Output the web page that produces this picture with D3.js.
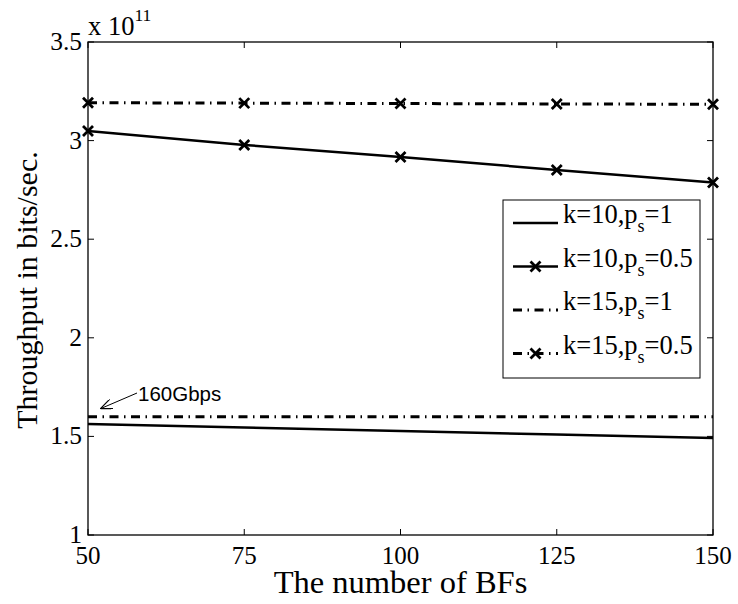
<!DOCTYPE html>
<html>
<head>
<meta charset="utf-8">
<script src="https://cdn.jsdelivr.net/npm/d3@7"></script>
<style>
  html, body { margin: 0; padding: 0; background: #fff; }
  svg { display: block; }
  text { font-family: "Liberation Serif", "Times New Roman", serif; fill: #000; }
</style>
</head>
<body>
<svg id="chart" width="738" height="604"></svg>
<script>
// Number of BFs on the x axis
const bfs = [50, 75, 100, 125, 150];

// Throughput (bits/sec.) for each configuration
const k10ps1  = [1.563e11, 1.545e11, 1.527e11, 1.510e11, 1.492e11];
const k10ps05 = [3.049e11, 2.978e11, 2.917e11, 2.851e11, 2.787e11];
const k15ps1  = [1.600e11, 1.600e11, 1.600e11, 1.600e11, 1.600e11];
const k15ps05 = [3.192e11, 3.190e11, 3.188e11, 3.186e11, 3.184e11];

// Axis ticks
const xTicks = [50, 75, 100, 125, 150];
const yTicks = [1e11, 1.5e11, 2e11, 2.5e11, 3e11, 3.5e11];
const yTickLabels = ["1", "1.5", "2", "2.5", "3", "3.5"];

// Legend entries
const seriesNames = [
  { k: "k=10,p", sub: "s", rest: "=1" },
  { k: "k=10,p", sub: "s", rest: "=0.5" },
  { k: "k=15,p", sub: "s", rest: "=1" },
  { k: "k=15,p", sub: "s", rest: "=0.5" }
];

// Reference line annotation
const refValue = 1.6e11;
const refLabel = "160Gbps";

const dashDot = "9,5.5,1.5,5.5";
const series = [
  { values: k10ps1,  dash: null,    marker: false },
  { values: k10ps05, dash: null,    marker: true  },
  { values: k15ps1,  dash: dashDot, marker: false },
  { values: k15ps05, dash: dashDot, marker: true  }
];

const svg = d3.select("#chart");
const L = 88, R = 713, T = 42, B = 535;

const x = d3.scaleLinear().domain([50, 150]).range([L, R]);
const y = d3.scaleLinear().domain([1e11, 3.5e11]).range([B, T]);

// Ticks pointing inward on all four sides
const tickLen = 6;
const axisG = svg.append("g");
xTicks.forEach(v => {
  axisG.append("line").attr("x1", x(v)).attr("x2", x(v)).attr("y1", B).attr("y2", B - tickLen)
    .attr("stroke", "#000").attr("stroke-width", 1);
  axisG.append("line").attr("x1", x(v)).attr("x2", x(v)).attr("y1", T).attr("y2", T + tickLen)
    .attr("stroke", "#000").attr("stroke-width", 1);
  axisG.append("text").attr("x", x(v)).attr("y", 564).attr("text-anchor", "middle")
    .attr("font-size", 25).text(v);
});
yTicks.forEach((v, i) => {
  axisG.append("line").attr("x1", L).attr("x2", L + tickLen).attr("y1", y(v)).attr("y2", y(v))
    .attr("stroke", "#000").attr("stroke-width", 1);
  axisG.append("line").attr("x1", R).attr("x2", R - tickLen).attr("y1", y(v)).attr("y2", y(v))
    .attr("stroke", "#000").attr("stroke-width", 1);
  axisG.append("text").attr("x", 82).attr("y", y(v) + 8).attr("text-anchor", "end")
    .attr("font-size", 25.5).text(yTickLabels[i]);
});

// Exponent label
const expT = svg.append("text").attr("x", 88).attr("y", 35).attr("font-size", 26.5);
expT.append("tspan").text("x 10");
expT.append("tspan").attr("dy", -14).attr("font-size", 17.5).text("11");

// Axis titles
svg.append("text").attr("x", 400.5).attr("y", 593).attr("text-anchor", "middle")
  .attr("font-size", 32.5).text("The number of BFs");
svg.append("text").attr("transform", "translate(37,290) rotate(-90)").attr("text-anchor", "middle")
  .attr("font-size", 30).text("Throughput in bits/sec.");

// Plot lines
const line = d3.line().x((d, i) => x(bfs[i])).y(d => y(d));
const plotG = svg.append("g");
function crossPath(cx, cy, s) {
  return `M${cx - s},${cy - s}L${cx + s},${cy + s}M${cx - s},${cy + s}L${cx + s},${cy - s}`;
}
series.forEach(s => {
  plotG.append("path").datum(s.values).attr("d", line)
    .attr("fill", "none").attr("stroke", "#000").attr("stroke-width", s.dash ? 3 : 2.5)
    .attr("stroke-dasharray", s.dash);
  if (s.marker) {
    s.values.forEach((v, i) => {
      plotG.append("path").attr("d", crossPath(x(bfs[i]), y(v), 5))
        .attr("stroke", "#000").attr("stroke-width", 2.8).attr("fill", "none");
    });
  }
});

// Frame
svg.append("rect").attr("x", L).attr("y", T).attr("width", R - L).attr("height", B - T)
  .attr("fill", "none").attr("stroke", "#000").attr("stroke-width", 1.3);

// Annotation arrow for the 160 Gbps level
svg.append("defs").append("marker").attr("id", "arrow").attr("viewBox", "0 0 12 10")
  .attr("refX", 12).attr("refY", 5).attr("markerWidth", 12).attr("markerHeight", 10)
  .attr("markerUnits", "userSpaceOnUse").attr("orient", "auto")
  .append("path").attr("d", "M0,0L12,5L0,10").attr("fill", "none").attr("stroke", "#000").attr("stroke-width", 1.2);
svg.append("line").attr("x1", 137).attr("y1", 393).attr("x2", x(52)).attr("y2", y(refValue) - 8)
  .attr("stroke", "#000").attr("stroke-width", 1).attr("marker-end", "url(#arrow)");
svg.append("text").attr("x", 138).attr("y", 401).attr("font-size", 20.5)
  .style("font-family", "'Liberation Sans', Arial, sans-serif").text(refLabel);

// Legend
const lg = svg.append("g");
lg.append("rect").attr("x", 503).attr("y", 200).attr("width", 197).attr("height", 178)
  .attr("fill", "#fff").attr("stroke", "#000").attr("stroke-width", 1);
seriesNames.forEach((n, i) => {
  const ry = 223 + i * 43.5;
  const s = series[i];
  lg.append("line").attr("x1", 513).attr("x2", 558).attr("y1", ry).attr("y2", ry)
    .attr("stroke", "#000").attr("stroke-width", s.dash ? 3 : 2.5).attr("stroke-dasharray", s.dash);
  if (s.marker) {
    lg.append("path").attr("d", crossPath(535.5, ry, 5)).attr("stroke", "#000").attr("stroke-width", 2.8);
  }
  const t = lg.append("text").attr("x", 563).attr("y", ry).attr("font-size", 26.5);
  t.append("tspan").text(n.k);
  t.append("tspan").attr("dy", 9).attr("font-size", 18).text(n.sub);
  t.append("tspan").attr("dy", -9).text(n.rest);
});
</script>
</body>
</html>
